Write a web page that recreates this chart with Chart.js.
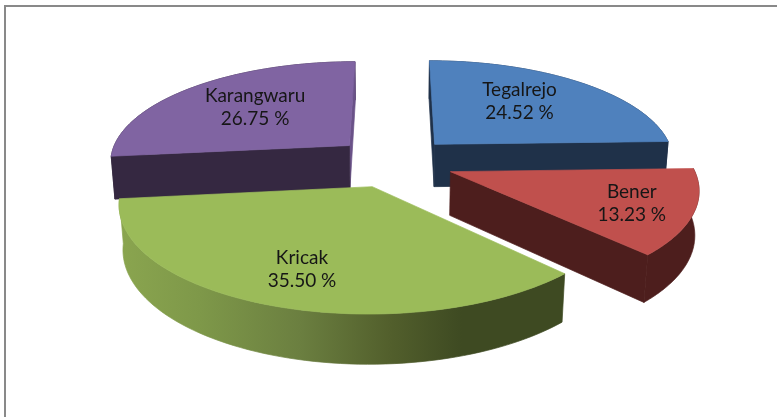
<!DOCTYPE html>
<html>
<head>
<meta charset="utf-8">
<title>Kecamatan Tegalrejo</title>
<script src="https://cdn.jsdelivr.net/npm/chart.js@4/dist/chart.umd.min.js"></script>
<style>
    html, body { margin: 0; padding: 0; background: #fff; }
    #wrap { position: relative; width: 777px; height: 417px; overflow: hidden; }
    #frame { position: absolute; left: 4px; top: 5px; right: -4px; bottom: -4px; border: 2px solid #898989; }
    canvas { position: absolute; left: 0; top: 0; }
</style>
</head>
<body>
<div id="wrap">
    <canvas id="chart" width="777" height="417"></canvas>
    <div id="frame"></div>
</div>
<script>
const categories = ['Tegalrejo', 'Bener', 'Kricak', 'Karangwaru'];
const shares = [24.52, 13.23, 35.50, 26.75];

const topColors = ['#4F81BD', '#C0504D', '#9BBB59', '#8064A2'];
const wallColors = ['#1F3149', '#4D1E1D', '#3E4A22', '#352841'];
const endCutColors = ['#1F3149', '#4D1E1D', '#3E4A22', '#6A5288'];

// How the flat pie is tipped back, fitted against the reference
const VIEW = {
    scaleX: 241,       // px per radius across
    scaleY: 100.6,     // px per radius in depth
    scaleZ: 219,       // px per radius in height
    perspective: 0.147,
    perspectiveZ: 0.0675,
    thickness: 0.2,    // in radii
    explode: 0.2515    // in radii
};
const DRAW_ORDER = [0, 3, 1, 2];
const LABEL_RADIUS = [0.55, 0.76, 0.71, 0.55];
const LABEL_NUDGE = [[2, -8], [-1, 0], [-1, 2], [-5, -5]];
const KRICAK_WALL_STOPS = [
    [120, '#8AA54F'], [200, '#7E9849'], [300, '#6B7F40'],
    [390, '#525F2C'], [462, '#3E4A22']
];

function project(arc, u, v, depth) {
    const w = 1 - VIEW.perspective * v + VIEW.perspectiveZ * depth;
    return {
        x: arc.x + VIEW.scaleX * u / w,
        y: arc.y + (VIEW.scaleY * v + VIEW.scaleZ * depth) / w
    };
}

function slicePoint(arc, angle, radius, depth) {
    const mid = (arc.startAngle + arc.endAngle) / 2;
    const u = radius * Math.cos(angle) + VIEW.explode * Math.cos(mid);
    const v = radius * Math.sin(angle) + VIEW.explode * Math.sin(mid);
    return project(arc, u, v, depth);
}

function fillPoints(ctx, points, fill) {
    ctx.beginPath();
    points.forEach((p, i) => (i ? ctx.lineTo(p.x, p.y) : ctx.moveTo(p.x, p.y)));
    ctx.closePath();
    ctx.fillStyle = fill;
    ctx.fill();
    // closes the hairline between neighbouring faces
    ctx.strokeStyle = fill;
    ctx.lineWidth = 0.7;
    ctx.stroke();
}

function signedArea(points) {
    return points.reduce((sum, p, i) => {
        const q = points[(i + 1) % points.length];
        return sum + p.x * q.y - q.x * p.y;
    }, 0);
}

function arcPoints(arc, depth) {
    const points = [];
    const steps = 72;
    for (let i = 0; i <= steps; i++) {
        const a = arc.startAngle + (arc.endAngle - arc.startAngle) * i / steps;
        points.push(slicePoint(arc, a, 1, depth));
    }
    return points;
}

function outerWallFill(ctx, index) {
    if (categories[index] !== 'Kricak') return wallColors[index];
    const gradient = ctx.createLinearGradient(120, 0, 462, 0);
    KRICAK_WALL_STOPS.forEach(([x, color]) => gradient.addColorStop((x - 120) / 342, color));
    return gradient;
}

function drawSlice(ctx, arc, index) {
    const h = VIEW.thickness;
    const top = arcPoints(arc, 0);
    const bottom = arcPoints(arc, h);
    const apexTop = slicePoint(arc, 0, 0, 0);
    const apexBottom = slicePoint(arc, 0, 0, h);
    const startCut = [apexTop, top[0], bottom[0], apexBottom];
    const endCut = [apexTop, top[top.length - 1], bottom[bottom.length - 1], apexBottom];

    // rim
    fillPoints(ctx, top.concat(bottom.slice().reverse()), outerWallFill(ctx, index));
    // cut faces, only the ones turned towards the viewer
    if (signedArea(endCut) > 0) fillPoints(ctx, endCut, endCutColors[index]);
    if (signedArea(startCut) < 0) fillPoints(ctx, startCut, wallColors[index]);
    // top face
    fillPoints(ctx, [apexTop].concat(top), topColors[index]);
}

function drawLabel(ctx, arc, index) {
    const mid = (arc.startAngle + arc.endAngle) / 2;
    const p = slicePoint(arc, mid, LABEL_RADIUS[index], 0);
    const x = p.x + LABEL_NUDGE[index][0];
    const y = p.y + LABEL_NUDGE[index][1];
    ctx.fillStyle = '#161616';
    ctx.font = '19px Lato, Carlito, sans-serif';
    ctx.textAlign = 'center';
    ctx.textBaseline = 'middle';
    ctx.fillText(categories[index], x, y - 11);
    ctx.fillText(shares[index].toFixed(2) + ' %', x, y + 12);
}

const pie3d = {
    id: 'pie3d',
    beforeDatasetsDraw(chart) {
        const ctx = chart.ctx;
        const arcs = chart.getDatasetMeta(0).data;
        ctx.save();
        DRAW_ORDER.forEach(i => drawSlice(ctx, arcs[i], i));
        DRAW_ORDER.forEach(i => drawLabel(ctx, arcs[i], i));
        ctx.restore();
        return false; // flat arcs are replaced by the tipped ones
    }
};

new Chart(document.getElementById('chart'), {
    type: 'pie',
    data: {
        labels: categories,
        datasets: [{ data: shares, backgroundColor: topColors, borderWidth: 0 }]
    },
    options: {
        responsive: false,
        animation: false,
        layout: { padding: { left: 10, bottom: 93 } },
        plugins: { legend: { display: false }, tooltip: { enabled: false } }
    },
    plugins: [pie3d]
});
</script>
</body>
</html>
